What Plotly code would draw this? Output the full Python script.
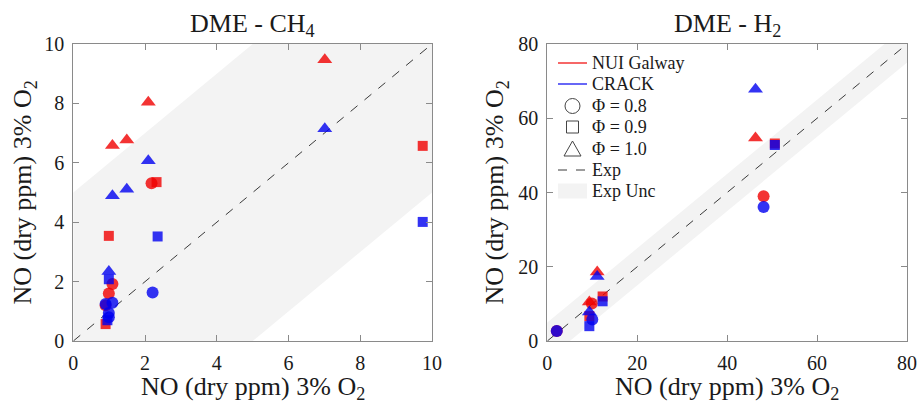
import plotly.graph_objects as go
from plotly.subplots import make_subplots

# ---- NO emissions, model vs experiment (dry ppm, 3% O2) ----
# DME - CH4 blends
ch4_nui_phi08_x = [0.90, 0.99, 1.09, 2.18]
ch4_nui_phi08_y = [1.20, 1.60, 1.92, 5.31]
ch4_nui_phi09_x = [0.90, 0.99, 2.32, 9.74]
ch4_nui_phi09_y = [0.57, 3.54, 5.35, 6.57]
ch4_nui_phi10_x = [1.09, 1.49, 2.09, 7.01]
ch4_nui_phi10_y = [6.58, 6.77, 8.04, 9.47]

ch4_crack_phi08_x = [0.90, 0.99, 0.99, 1.09, 2.21]
ch4_crack_phi08_y = [1.25, 0.80, 0.94, 1.29, 1.63]
ch4_crack_phi09_x = [0.95, 0.99, 2.35, 9.74]
ch4_crack_phi09_y = [0.70, 2.08, 3.52, 4.01]
ch4_crack_phi10_x = [0.99, 1.09, 1.49, 2.09, 7.01]
ch4_crack_phi10_y = [2.34, 4.89, 5.11, 6.07, 7.15]

# DME - H2 blends
h2_nui_phi08_x = [2.1, 9.9, 48.1]
h2_nui_phi08_y = [2.7, 10.1, 39.0]
h2_nui_phi09_x = [9.35, 12.3, 50.6]
h2_nui_phi09_y = [6.7, 12.0, 53.2]
h2_nui_phi10_x = [9.35, 11.1, 46.3]
h2_nui_phi10_y = [10.5, 18.6, 54.7]

h2_crack_phi08_x = [2.1, 10.0, 48.1]
h2_crack_phi08_y = [2.7, 5.8, 36.1]
h2_crack_phi09_x = [9.35, 12.3, 50.6]
h2_crack_phi09_y = [4.0, 10.7, 52.8]
h2_crack_phi10_x = [9.35, 11.1, 46.3]
h2_crack_phi10_y = [7.8, 17.4, 67.8]

# Experimental uncertainty (absolute, ppm) and axis limits
ch4_unc = 5.0
h2_unc = 5.0
ch4_max = 10
h2_max = 80
ch4_dtick = 2
h2_dtick = 20

titles = ["DME - CH<sub>4</sub>", "DME - H<sub>2</sub>"]
axis_label = "NO (dry ppm) 3% O<sub>2</sub>"
model_names = ["NUI Galway", "CRACK"]
phi_labels = ["Φ = 0.8", "Φ = 0.9", "Φ = 1.0"]
legend_labels = model_names + phi_labels + ["Exp", "Exp Unc"]

RED = "rgb(240,0,0)"
BLUE = "rgb(0,0,240)"
BAND = "rgb(243,243,243)"
AXC = "#8a8a8a"
TXT = "#1a1a1a"
FONT = "'Liberation Serif', 'DejaVu Serif', 'Times New Roman', serif"

symbols = ["circle", "square", "triangle-up"]
sizes = [12, 10, 13]

W, H = 920, 403
fig = make_subplots(rows=1, cols=2)

panels = [
    (1, ch4_unc, ch4_max,
     [[(ch4_nui_phi08_x, ch4_nui_phi08_y), (ch4_nui_phi09_x, ch4_nui_phi09_y), (ch4_nui_phi10_x, ch4_nui_phi10_y)],
      [(ch4_crack_phi08_x, ch4_crack_phi08_y), (ch4_crack_phi09_x, ch4_crack_phi09_y), (ch4_crack_phi10_x, ch4_crack_phi10_y)]]),
    (2, h2_unc, h2_max,
     [[(h2_nui_phi08_x, h2_nui_phi08_y), (h2_nui_phi09_x, h2_nui_phi09_y), (h2_nui_phi10_x, h2_nui_phi10_y)],
      [(h2_crack_phi08_x, h2_crack_phi08_y), (h2_crack_phi09_x, h2_crack_phi09_y), (h2_crack_phi10_x, h2_crack_phi10_y)]]),
]

for col, unc, vmax, series in panels:
    lo, hi = -unc, vmax + unc
    # uncertainty band around the parity line (clipped to the plot area)
    fig.add_trace(go.Scatter(
        x=[lo, hi, hi, lo, lo], y=[lo + unc, hi + unc, hi - unc, lo - unc, lo + unc],
        mode="lines", fill="toself", fillcolor=BAND, line=dict(width=0),
        hoverinfo="skip", showlegend=False), row=1, col=col)
    # parity line
    fig.add_trace(go.Scatter(
        x=[0, vmax], y=[0, vmax], mode="lines",
        line=dict(color="#3a3a3a", width=1, dash="dash"),
        hoverinfo="skip", showlegend=False), row=1, col=col)
    for m, color in enumerate([RED, BLUE]):
        for p in range(3):
            xs, ys = series[m][p]
            fig.add_trace(go.Scatter(
                x=xs, y=ys, mode="markers",
                marker=dict(symbol=symbols[p], size=sizes[p], color=color,
                            opacity=0.8, line=dict(width=0)),
                name=f"{model_names[m]} {phi_labels[p]}", showlegend=False,
                cliponaxis=False), row=1, col=col)

dom_y = [0.1538, 0.8908]
doms_x = [[0.0797, 0.4696], [0.5949, 0.9859]]
for i, (vmax, dt) in enumerate([(ch4_max, ch4_dtick), (h2_max, h2_dtick)]):
    ax_common = dict(range=[0, vmax], dtick=dt, showline=True, mirror="ticks", linecolor=AXC, linewidth=1,
                     ticks="inside", ticklen=6, tickcolor=AXC, showgrid=False, zeroline=False,
                     automargin=False, ticklabelstandoff=4,
                     tickfont=dict(family=FONT, size=20, color=TXT))
    fig.update_layout(**{f"xaxis{'' if i == 0 else 2}": dict(ax_common, domain=doms_x[i]),
                         f"yaxis{'' if i == 0 else 2}": dict(ax_common, domain=dom_y)})


def px(x):
    return x / W


def py(y):
    return 1 - y / H


annotations = []
# panel titles and axis titles
title_font = dict(family=FONT, size=26, color=TXT)
ylabel_x = [24, 496]
for i, t in enumerate(titles):
    annotations.append(dict(text=t, x=sum(doms_x[i]) / 2, y=dom_y[1], xref="paper", yref="paper",
                            xanchor="center", yanchor="bottom", yshift=1, showarrow=False,
                            font=title_font))
    annotations.append(dict(text=axis_label, x=sum(doms_x[i]) / 2, y=py(388), xref="paper", yref="paper",
                            xanchor="center", yanchor="middle", showarrow=False, font=title_font))
    annotations.append(dict(text=axis_label, x=px(ylabel_x[i]), y=sum(dom_y) / 2, xref="paper", yref="paper",
                            xanchor="center", yanchor="middle", textangle=-90, showarrow=False,
                            font=title_font))

# legend block inside the DME - H2 panel (pixel layout converted to paper units)
shapes = []
leg_x0, leg_x1, leg_text_x = 558, 587, 590
leg_rows = [63, 84, 106, 127, 149, 170, 191]
for k, lbl in enumerate(legend_labels):
    yc = leg_rows[k]
    annotations.append(dict(text=lbl, x=px(leg_text_x), y=py(yc), xref="paper", yref="paper",
                            xanchor="left", yanchor="middle", showarrow=False,
                            font=dict(family=FONT, size=18, color=TXT)))
for k, color in enumerate([RED, BLUE]):
    yc = leg_rows[k]
    shapes.append(dict(type="line", xref="paper", yref="paper", x0=px(leg_x0), x1=px(leg_x1),
                       y0=py(yc), y1=py(yc), line=dict(color=color, width=1.2)))
cx = (leg_x0 + leg_x1) / 2
r = 7.5
yc = leg_rows[2]
shapes.append(dict(type="circle", xref="paper", yref="paper", x0=px(cx - r), x1=px(cx + r),
                   y0=py(yc + r), y1=py(yc - r), line=dict(color="#444", width=1)))
yc = leg_rows[3]
r = 6
shapes.append(dict(type="rect", xref="paper", yref="paper", x0=px(cx - r), x1=px(cx + r),
                   y0=py(yc + r), y1=py(yc - r), line=dict(color="#444", width=1)))
yc = leg_rows[4]
tri = f"M {px(cx - 8.5)} {py(yc + 7)} L {px(cx + 8.5)} {py(yc + 7)} L {px(cx)} {py(yc - 8)} Z"
shapes.append(dict(type="path", xref="paper", yref="paper", path=tri, line=dict(color="#444", width=1)))
yc = leg_rows[5]
shapes.append(dict(type="line", xref="paper", yref="paper", x0=px(leg_x0), x1=px(leg_x1),
                   y0=py(yc), y1=py(yc), line=dict(color="#3a3a3a", width=1, dash="dash")))
yc = leg_rows[6]
shapes.append(dict(type="rect", xref="paper", yref="paper", x0=px(leg_x0), x1=px(leg_x1),
                   y0=py(yc + 7.5), y1=py(yc - 7.5), fillcolor=BAND, line=dict(width=0), layer="above"))

fig.update_layout(
    width=W, height=H,
    margin=dict(l=0, r=0, t=0, b=0),
    plot_bgcolor="white", paper_bgcolor="white",
    annotations=annotations, shapes=shapes,
    showlegend=False,
)

fig.write_html("out.html")
